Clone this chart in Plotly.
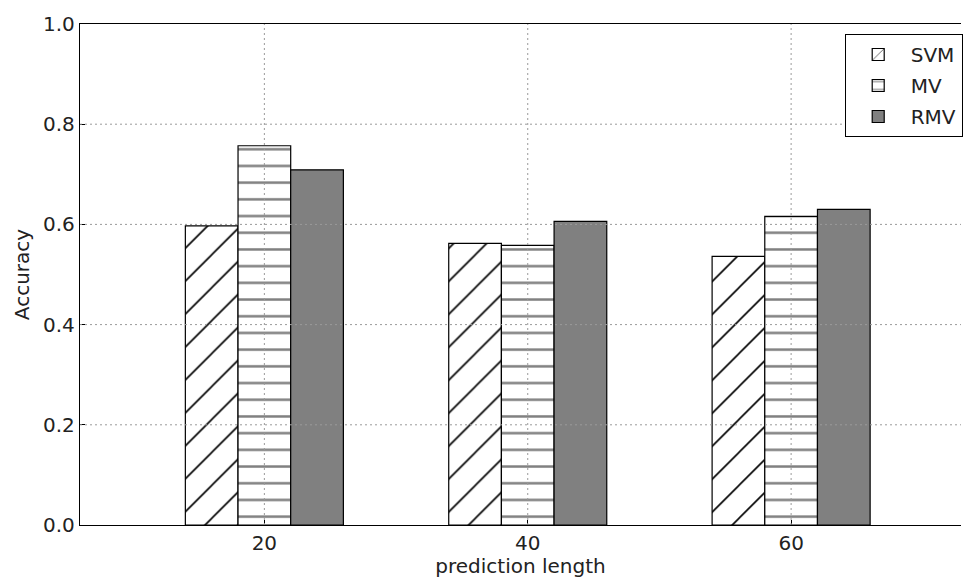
import plotly.graph_objects as go

categories = [20, 40, 60]
svm = [0.597, 0.562, 0.536]
mv = [0.757, 0.558, 0.616]
rmv = [0.709, 0.606, 0.630]
y_ticks = [0.0, 0.2, 0.4, 0.6, 0.8, 1.0]

font = "DejaVu Sans"
fig = go.Figure()
line = dict(color="black", width=1.2)
fig.add_trace(go.Bar(
    x=categories, y=svm, name="SVM", width=4, offset=-6, legendgroup="a",
    marker=dict(color="white", line=line,
                pattern=dict(shape="/", fgcolor="black", bgcolor="white", fgopacity=1,
                             size=23.3, solidity=0.07, fillmode="overlay")),
))
fig.add_trace(go.Bar(
    x=categories, y=mv, name="MV", width=4, offset=-2, legendgroup="b",
    marker=dict(color="white", line=line,
                pattern=dict(shape="-", fgcolor="#808080", bgcolor="white", fgopacity=1,
                             size=16.7, solidity=0.15, fillmode="overlay")),
))
fig.add_trace(go.Bar(
    x=categories, y=rmv, name="RMV", width=4, offset=2, legendgroup="c",
    marker=dict(color="#808080", line=line),
))

shapes = []
for v in y_ticks[1:-1]:
    shapes.append(dict(type="line", xref="paper", yref="y", x0=0, x1=1, y0=v, y1=v,
                       line=dict(color="#9a9a9a", width=1, dash="2px,3px"), layer="above"))
for c in categories:
    shapes.append(dict(type="line", xref="x", yref="paper", x0=c, x1=c, y0=0, y1=1,
                       line=dict(color="#9a9a9a", width=1, dash="2px,3px"), layer="above"))

fig.update_layout(
    width=963, height=578,
    margin=dict(l=80, r=0, t=24, b=53),
    plot_bgcolor="white", paper_bgcolor="white",
    barmode="overlay",
    font=dict(family=font, size=20, color="#222222"),
    shapes=shapes,
    showlegend=True,
    legend=dict(x=0.868, y=0.98, xanchor="left", yanchor="top",
                bgcolor="white", bordercolor="black", borderwidth=1,
                font=dict(size=20), tracegroupgap=2, itemwidth=55),
    xaxis=dict(range=[6, 72.9], tickvals=categories, ticktext=[str(c) for c in categories],
               showgrid=False, zeroline=False, showline=True, linecolor="black", linewidth=1.3,
               mirror=True, ticks="inside", ticklen=5, tickcolor="black",
               title=dict(text="prediction length", standoff=4, font=dict(size=20))),
    yaxis=dict(range=[0, 1], tickvals=y_ticks, tickformat=".1f",
               showgrid=False, zeroline=False, showline=True, linecolor="black", linewidth=1.3,
               ticks="inside", ticklen=5, tickcolor="black",
               title=dict(text="Accuracy", standoff=8, font=dict(size=20))),
)

fig.write_html("out.html")
